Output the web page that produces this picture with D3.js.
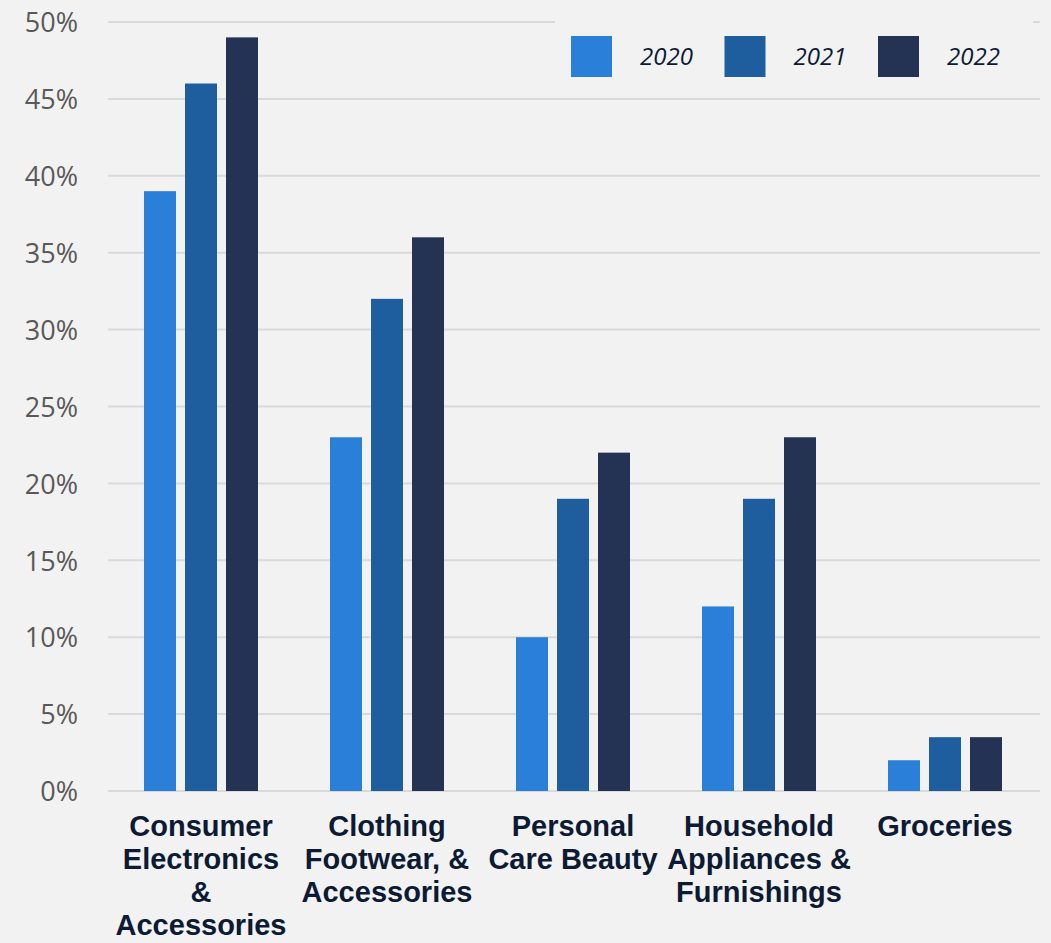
<!DOCTYPE html>
<html><head><meta charset="utf-8">
<script src="https://cdn.jsdelivr.net/npm/d3@7"></script>
<style>html,body{margin:0;padding:0;background:#f2f2f2;}svg{display:block;}</style>
</head><body>
<svg id="chart" width="1051" height="943"></svg>
<script>
const categories = ["Consumer Electronics & Accessories","Clothing Footwear, & Accessories","Personal Care Beauty","Household Appliances & Furnishings","Groceries"];
const categoryLines = [["Consumer","Electronics","&","Accessories"],["Clothing","Footwear, &","Accessories"],["Personal","Care Beauty"],["Household","Appliances &","Furnishings"],["Groceries"]];
const seriesNames = ["2020","2021","2022"];
const values2020 = [39,23,10,12,2];
const values2021 = [46,32,19,19,3.5];
const values2022 = [49,36,22,23,3.5];
const yTicks = [0,5,10,15,20,25,30,35,40,45,50];
const colors = ["#2a7fd8","#1f5e9e","#243253"];

const series = [values2020, values2021, values2022];
const svg = d3.select("#chart");
svg.append("rect").attr("width",1051).attr("height",943).attr("fill","#f2f2f2");

const y = d3.scaleLinear().domain([0,50]).range([791,22]);
const x0 = d3.scaleBand().domain(categories).range([108,1038]).paddingInner(0).paddingOuter(0);
const x1 = d3.scaleBand().domain(seriesNames).range([0,114]).paddingInner(9/41).paddingOuter(0);
const groupOffset = (x0.bandwidth()-114)/2;

// gridlines
svg.append("g").selectAll("line").data(yTicks).join("line")
  .attr("x1",108).attr("x2",1040)
  .attr("y1",d=>y(d)).attr("y2",d=>y(d))
  .attr("stroke","#d9d9d9").attr("stroke-width",2);

// y axis labels
const yAxis = d3.axisLeft(y).tickValues(yTicks).tickFormat(d=>d+"%").tickSize(0).tickPadding(0);
const ga = svg.append("g").attr("transform","translate(78,0)").call(yAxis);
ga.select(".domain").remove();
ga.selectAll("text").attr("font-family","'Open Sans', sans-serif").attr("font-size",27).attr("fill","#595959").attr("dy","0.36em");

// bars
const groups = svg.append("g").selectAll("g").data(categories).join("g")
  .attr("transform",c=>`translate(${x0(c)+groupOffset},0)`);
groups.selectAll("rect").data((c,i)=>seriesNames.map((s,j)=>({s,v:series[j][i],j}))).join("rect")
  .attr("x",d=>x1(d.s)).attr("width",x1.bandwidth())
  .attr("y",d=>y(d.v)).attr("height",d=>y(0)-y(d.v))
  .attr("fill",d=>colors[d.j]);

// category labels
const cl = svg.append("g").selectAll("text").data(categories).join("text")
  .attr("x",c=>x0(c)+x0.bandwidth()/2).attr("y",836)
  .attr("text-anchor","middle").attr("font-family","'Liberation Sans', Arial, sans-serif")
  .attr("font-weight","bold").attr("font-size",29).attr("fill","#0c1a33");
cl.selectAll("tspan").data((c,i)=>categoryLines[i]).join("tspan")
  .attr("x",function(){return this.parentNode.getAttribute("x");})
  .attr("dy",(d,i)=>i===0?0:33).text(d=>d);

// legend
const lg = svg.append("g");
lg.append("rect").attr("x",555).attr("y",8).attr("width",478).attr("height",88).attr("fill","#f2f2f2");
const items = lg.selectAll("g").data(seriesNames).join("g")
  .attr("transform",(d,i)=>`translate(${571+i*153.5},36)`);
items.append("rect").attr("width",41).attr("height",41).attr("fill",(d,i)=>colors[i]);
items.append("text").attr("x",69).attr("y",29).text(d=>d)
  .attr("font-family","'Open Sans', sans-serif").attr("font-style","italic")
  .attr("font-size",24).attr("fill","#0c1a33");
</script>
</body></html>
